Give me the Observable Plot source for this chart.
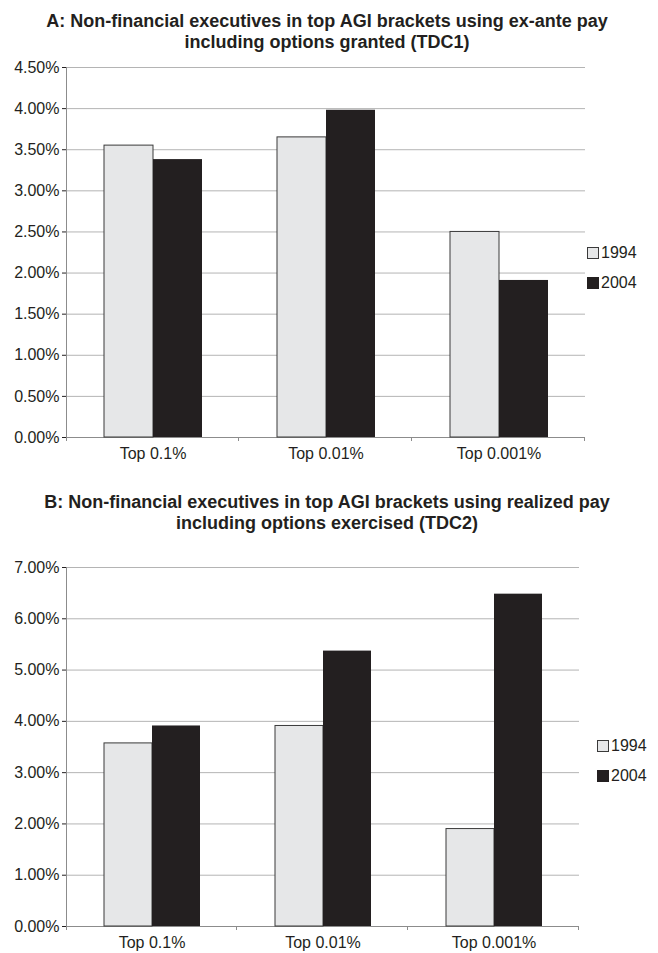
<!DOCTYPE html>
<html><head><meta charset="utf-8">
<script src="https://cdn.jsdelivr.net/npm/d3@7"></script>
<script src="https://cdn.jsdelivr.net/npm/@observablehq/plot@0.6"></script>
<style>
body{margin:0;background:#fff;font-family:"Liberation Sans",Arial,sans-serif;}
#wrap{position:relative;width:658px;height:953px;overflow:hidden;}
.title{position:absolute;left:0;width:654px;text-align:center;font-weight:bold;font-size:18px;line-height:21px;color:#231f20;}
.panel{position:absolute;left:0;}
.legend{position:absolute;font-size:16px;color:#231f20;}
.legend .row{display:flex;align-items:center;}
.sw{width:12px;height:12px;box-sizing:border-box;margin-right:2px;}
</style></head><body><div id="wrap"></div>
<script>
const categories = ["Top 0.1%", "Top 0.01%", "Top 0.001%"];
const years = ["1994", "2004"];
const panelA1994 = [3.55, 3.65, 2.50];
const panelA2004 = [3.38, 3.98, 1.91];
const panelB1994 = [3.57, 3.91, 1.90];
const panelB2004 = [3.91, 5.37, 6.48];
const yTicksA = [0, 0.5, 1, 1.5, 2, 2.5, 3, 3.5, 4, 4.5];
const yTicksB = [0, 1, 2, 3, 4, 5, 6, 7];
const titleA = ["A: Non-financial executives in top AGI brackets using ex-ante pay", "including options granted (TDC1)"];
const titleB = ["B: Non-financial executives in top AGI brackets using realized pay", "including options exercised (TDC2)"];

const FILL94 = "#e6e7e8", FILL04 = "#231f20", INK = "#231f20";
const wrap = document.getElementById("wrap");

function rowsOf(v94, v04) {
  const rows = [];
  categories.forEach((c, i) => {
    rows.push({cat: c, year: years[0], value: v94[i]});
    rows.push({cat: c, year: years[1], value: v04[i]});
  });
  return rows;
}

function panel(cfg) {
  const rows = rowsOf(cfg.v94, cfg.v04);
  const ticks = cfg.ticks;
  const chart = Plot.plot({
    width: 658, height: cfg.height,
    marginLeft: cfg.ml, marginRight: cfg.mr, marginTop: cfg.mt, marginBottom: cfg.mb,
    style: {fontFamily: "'Liberation Sans', Arial, sans-serif", fontSize: "16px", color: INK, background: "white", overflow: "visible"},
    fx: {domain: categories, padding: 0, label: null, axis: "bottom", tickSize: 0, tickPadding: 10},
    x: {domain: years, paddingInner: 0, paddingOuter: 0.75, axis: null},
    y: {domain: [0, ticks[ticks.length - 1]], ticks: ticks, tickFormat: d => d.toFixed(2) + "%", label: null, tickSize: 4, tickPadding: 3},
    marks: [
      Plot.ruleY(ticks.filter(d => d > 0), {stroke: "#b4b4b4", strokeWidth: 1}),
      Plot.ruleY([0], {stroke: "#8c8c8c", strokeWidth: 1}),
      Plot.barY(rows.filter(d => d.year === years[0]), {fx: "cat", x: "year", y: "value", fill: FILL94, stroke: "#3a3a3a", strokeWidth: 1, inset: 0}),
      Plot.barY(rows.filter(d => d.year === years[1]), {fx: "cat", x: "year", y: "value", fill: FILL04, inset: 0})
    ]
  });
  chart.classList.add("panel");
  chart.style.top = cfg.top + "px";
  // axis line and band-boundary ticks derived from the library's scales
  const svg = d3.select(chart);
  const fx = chart.scale("fx"), y = chart.scale("y");
  const y0 = y.apply(0), yTop = y.apply(ticks[ticks.length - 1]);
  const xs = categories.map(c => fx.apply(c));
  xs.push(xs[xs.length - 1] + fx.bandwidth);
  const g = svg.append("g").attr("stroke", "#8c8c8c").attr("stroke-width", 1);
  g.append("line").attr("x1", xs[0] + 0.5).attr("x2", xs[0] + 0.5).attr("y1", yTop).attr("y2", y0 + 4);
  xs.slice(1).forEach(x => g.append("line").attr("x1", x - 0.5).attr("x2", x - 0.5).attr("y1", y0).attr("y2", y0 + 4));
  wrap.appendChild(chart);

  const t = document.createElement("div");
  t.className = "title";
  t.style.top = cfg.titleTop + "px";
  t.innerHTML = cfg.title.map(s => `<div>${s}</div>`).join("");
  wrap.appendChild(t);

  const lg = document.createElement("div");
  lg.className = "legend";
  lg.style.left = cfg.legLeft + "px";
  lg.style.top = cfg.legTop + "px";
  years.forEach((yr, i) => {
    const r = document.createElement("div");
    r.className = "row";
    r.style.height = cfg.legRow + "px";
    const sw = document.createElement("div");
    sw.className = "sw";
    sw.style.background = i === 0 ? FILL94 : FILL04;
    sw.style.border = i === 0 ? "1px solid #3a3a3a" : "none";
    r.appendChild(sw);
    const s = document.createElement("span");
    s.textContent = yr;
    r.appendChild(s);
    lg.appendChild(r);
  });
  wrap.appendChild(lg);
}

panel({v94: panelA1994, v04: panelA2004, ticks: yTicksA, top: 57, height: 410, ml: 65, mr: 73, mt: 10, mb: 30,
  title: titleA, titleTop: 11, legLeft: 587, legTop: 238, legRow: 30});
panel({v94: panelB1994, v04: panelB2004, ticks: yTicksB, top: 556, height: 397, ml: 65, mr: 78, mt: 11, mb: 27,
  title: titleB, titleTop: 492, legLeft: 597, legTop: 731, legRow: 30});
</script>
</body></html>
